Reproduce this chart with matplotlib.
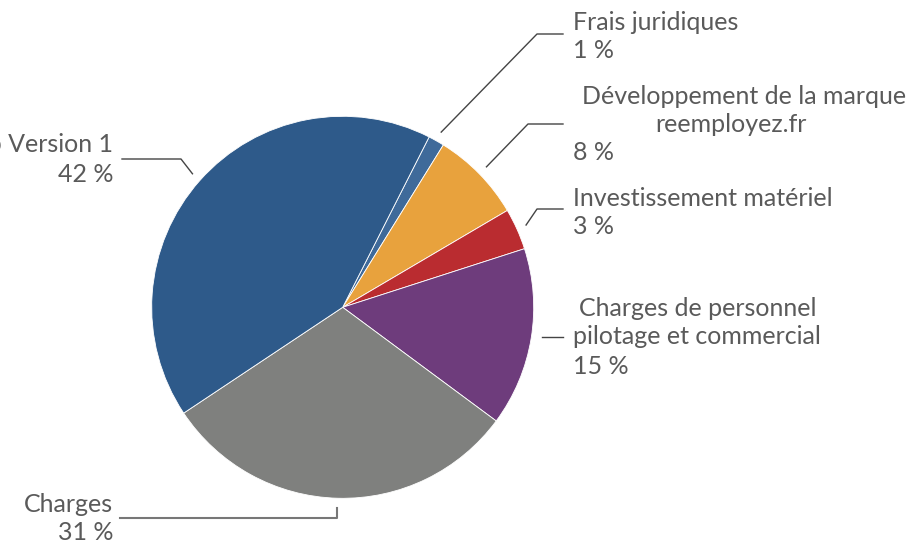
import matplotlib.pyplot as plt
import numpy as np

# data
labels = ["Frais juridiques", "Développement de la marque\nreemployez.fr",
          "Investissement matériel", "Charges de personnel\npilotage et commercial",
          "Charges", "Création de l'app Version 1"]
values = [1.36, 7.7, 3.5, 15.1, 30.5, 41.8]
pct_text = ["1 %", "8 %", "3 %", "15 %", "31 %", "42 %"]
colors = ["#3F6A9A", "#E8A23D", "#BA2C30", "#6E3C7C", "#7F807E", "#2E5A8A"]

W, H = 922, 546
fig = plt.figure(figsize=(W / 100, H / 100), dpi=100)
ax = fig.add_axes([0, 0, 1, 1])

cx, cy, r = 342.7, H - 307.3, 191
wedges, _ = ax.pie(values, colors=colors, startangle=63.1, counterclock=False,
                   center=(cx, cy), radius=r, frame=True,
                   wedgeprops=dict(linewidth=0.6, edgecolor="white"))
ax.set_xlim(0, W)
ax.set_ylim(0, H)
ax.set_aspect("equal")
ax.axis("off")

txt = dict(fontsize=18, color="#5a5a5a", family=["Lato", "DejaVu Sans"])
lc = "#444444"

# label layout: (elbow x, elbow y, end x, text x, side)
layout = [
    (537, 34, 563, 573, "r"),
    (528, 124, 563, 573, "r"),
    (537, 209, 563, 573, "r"),
    (542, 337, 563, 573, "r"),
    (337, 518, 120, 113, "l"),
    (181, 159, 122, 113, "l"),
]

for i, w in enumerate(wedges):
    mid = np.deg2rad((w.theta1 + w.theta2) / 2)
    ax0 = cx + 201 * np.cos(mid)
    ay0 = cy + 201 * np.sin(mid)
    ex, ey, tx, txx, side = layout[i]
    ey = H - ey
    if i == 3:
        ax.plot([ex, tx], [ey, ey], color=lc, lw=1)
    elif i == 4:
        ax.plot([ex, ex, tx], [ay0, ey, ey], color="#777777", lw=1.5)
    else:
        ax.plot([ax0, ex, tx], [ay0, ey, ey], color=lc, lw=1)

    lines = labels[i].split("\n")
    if side == "r":
        if i == 1:
            ax.text(744, ey + 27, lines[0], ha="center", va="center", **txt)
            ax.text(731, ey, lines[1], ha="center", va="center", **txt)
            ax.text(txx, ey - 29, pct_text[i], ha="left", va="center", **txt)
        elif i == 3:
            ax.text(txx + 6, ey + 29, lines[0], ha="left", va="center", **txt)
            ax.text(txx, ey, lines[1], ha="left", va="center", **txt)
            ax.text(txx, ey - 30, pct_text[i], ha="left", va="center", **txt)
        else:
            ax.text(txx, ey + 11, lines[0], ha="left", va="center", **txt)
            ax.text(txx, ey - 17, pct_text[i], ha="left", va="center", **txt)
    else:
        ax.text(txx, ey + 14, lines[0], ha="right", va="center", **txt)
        ax.text(txx, ey - 15, pct_text[i], ha="right", va="center", **txt)

fig.savefig("out.png", dpi=100, facecolor="white")
